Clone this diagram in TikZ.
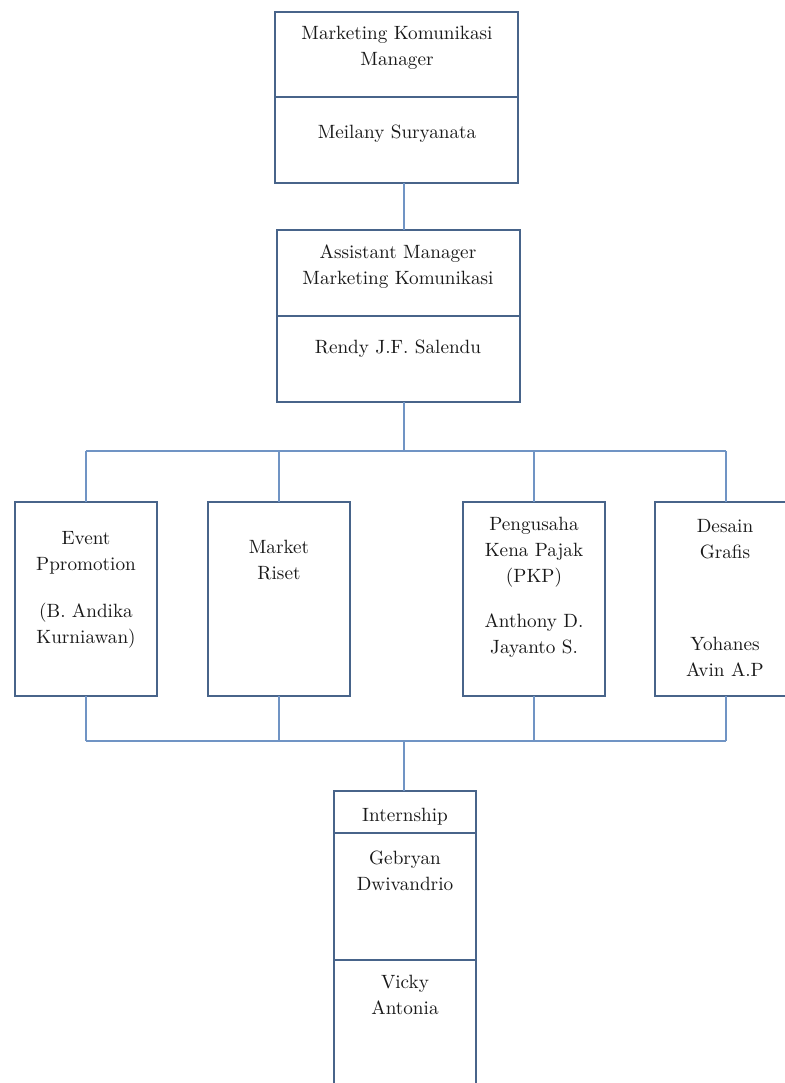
\documentclass[tikz,border=0pt]{standalone}
\usepackage{tikz}
\usetikzlibrary{positioning}
\definecolor{boxblue}{RGB}{72,100,138}
\definecolor{linkblue}{RGB}{112,148,196}
\definecolor{inkgray}{RGB}{25,25,25}
\tikzset{box/.style = {draw=boxblue, line width=1pt, rectangle, inner sep=0, outer sep=0,
                       minimum width=71pt, fill=white}}
\tikzset{widebox/.style = {box, minimum width=121.5pt, minimum height=43pt}}
\tikzset{txt/.style = {align=center, inner sep=0, text=inkgray,
                       font=\fontsize{9.6}{13}\selectfont}}
\tikzset{link/.style = {draw=linkblue, line width=0.8pt}}

\begin{document}
\begin{tikzpicture}[x=0.5pt, y=-0.5pt]
    \useasboundingbox (0, 0) rectangle (785, 1083);
    \clip (0, 0) rectangle (785, 1083);

    \coordinate (top) at (404, 451);
    \coordinate (bot) at (404, 741);

    \node [widebox, minimum height=42.5pt] (mgrT) at (396.5, 54.5) {};
    \node [widebox] (mgrB) at (396.5, 140) {};
    \node [widebox] (asstT) at (398.5, 273) {};
    \node [widebox] (asstB) at (398.5, 359) {};

    \node [box, minimum height=97pt] (ev) at (86, 599) {};
    \node [box, minimum height=97pt] (riset) at (279, 599) {};
    \node [box, minimum height=97pt] (pkp) at (534, 598.5) {};
    \node [box, minimum height=97pt] (desain) at (726, 599) {};

    \node [box, minimum height=21pt] (intT) at (405, 812) {};
    \node [box, minimum height=63.5pt] (intA) at (405, 896.5) {};
    \node [box, minimum height=70pt] (intB) at (405, 1030) {};

    \draw [link] (mgrB.south -| top) -- (asstT.north -| top);
    \draw [link] (asstB.south -| top) -- (top);
    \draw [link] (ev.north |- top) -- (desain.north |- top);
    \draw [link] (ev.south |- bot) -- (desain.south |- bot);
    \foreach \n in {ev, riset, pkp, desain} {
      \draw [link] (\n.north) -- (\n.north |- top);
      \draw [link] (\n.south) -- (\n.south |- bot);
    }
    \draw [link] (bot) -- (intT.north -| bot);

    \node [txt] (mgrTitle) at (397, 48) {Marketing Komunikasi\\Manager};
    \node [txt] (mgrName) at (397, 134) {Meilany Suryanata};
    \node [txt] (asstTitle) at (398, 267) {Assistant Manager\\Marketing Komunikasi};
    \node [txt] (asstName) at (398, 349) {Rendy J.F. Salendu};

    \node [txt] (evTitle) at (86, 553) {Event\\Ppromotion};
    \node [txt] (evName) at (86, 626) {(B. Andika\\Kurniawan)};
    \node [txt] (risetTitle) at (279, 560) {Market\\Riset};
    \node [txt] (pkpTitle) at (534, 552) {Pengusaha\\Kena Pajak\\(PKP)};
    \node [txt] (pkpName) at (534, 636) {Anthony D.\\Jayanto S.};
    \node [txt] (desainTitle) at (725, 539) {Desain\\Grafis};
    \node [txt] (desainName) at (725, 657) {Yohanes\\Avin A.P};

    \node [txt] (intTitle) at (405, 817) {Internship};
    \node [txt] (intNameA) at (405, 871) {Gebryan\\Dwivandrio};
    \node [txt] (intNameB) at (405, 995) {Vicky\\Antonia};
\end{tikzpicture}
\end{document}
